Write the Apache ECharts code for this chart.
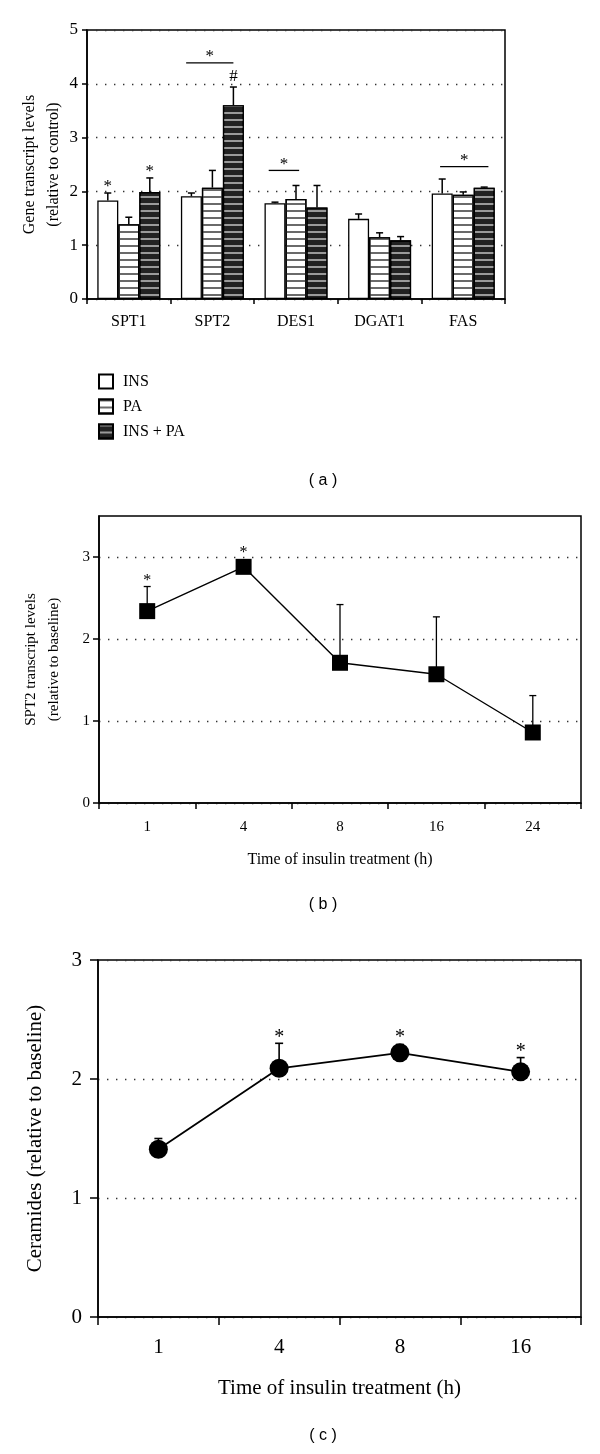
<!DOCTYPE html>
<html>
<head>
<meta charset="utf-8">
<script src="https://cdn.jsdelivr.net/npm/echarts@6/dist/echarts.min.js"></script>
<style>
html,body{margin:0;padding:0;background:#fff;}
#chart{width:600px;height:1454px;}
</style>
</head>
<body>
<div id="chart"></div>
<script>
// ---------- Panel (a) data ----------
const genes = ['SPT1', 'SPT2', 'DES1', 'DGAT1', 'FAS'];
const seriesNames = ['INS', 'PA', 'INS + PA'];
const insMean   = [1.83, 1.91, 1.78, 1.49, 1.96];
const insTop    = [1.97, 1.97, 1.80, 1.58, 2.23];
const paMean    = [1.39, 2.07, 1.86, 1.15, 1.94];
const paTop     = [1.52, 2.39, 2.11, 1.23, 1.99];
const insPaMean = [1.99, 3.60, 1.70, 1.09, 2.07];
const insPaTop  = [2.25, 3.94, 2.11, 1.16, 2.08];
const aTicks = [0, 1, 2, 3, 4, 5];
// bar-level marks: [gene index, series index, symbol]
const aBarMarks = [[0, 0, '*'], [0, 2, '*'], [1, 2, '#']];
// group significance: [gene index, y value, from bar, to bar]
const aGroupMarks = [[1, 4.39, -1.25, 1.0], [2, 2.39, -1.3, 0.15], [4, 2.46, -1.1, 1.2]];

// ---------- Panel (b) data ----------
const bTimes = ['1', '4', '8', '16', '24'];
const bMean  = [2.34, 2.88, 1.71, 1.57, 0.86];
const bTop   = [2.64, 2.92, 2.42, 2.27, 1.31];
const bTicks = [0, 1, 2, 3];
const bStars = [0, 1];

// ---------- Panel (c) data ----------
const cTimes = ['1', '4', '8', '16'];
const cMean  = [1.41, 2.09, 2.22, 2.06];
const cTop   = [1.50, 2.30, 2.29, 2.18];
const cStars = [1, 2, 3];

const SERIF = '"Liberation Serif","DejaVu Serif",serif';
const SANS = '"Liberation Sans", Arial, sans-serif';
const BAR_W = 21;

const chart = echarts.init(document.getElementById('chart'), null, {renderer: 'canvas'});

const aMeans = [insMean, paMean, insPaMean];
const aTops = [insTop, paTop, insPaTop];

const dotted = {color: '#333', width: 1.4, type: [1.4, 7.6]};

function axisCommon(fs, margin, tickLen) {
  return {
    axisLine: {show: true, lineStyle: {color: '#000', width: 1.5}},
    axisTick: {show: true, length: tickLen, lineStyle: {color: '#000', width: 1.5}},
    axisLabel: {color: '#000', fontFamily: SERIF, fontSize: fs, margin: margin,
      formatter: v => (typeof v === 'number' && !Number.isInteger(v)) ? '' : v}
  };
}

// error bar data
const aErrData = [];
for (let k = 0; k < 3; k++) for (let i = 0; i < genes.length; i++) aErrData.push([i, k, aMeans[k][i], aTops[k][i]]);
const bErrData = bMean.map((v, i) => [i, v, bTop[i]]);
const cErrData = cMean.map((v, i) => [i, v, cTop[i]]);

function errBarRender(capHalf, lw, offsetFn) {
  return function (params, api) {
    const off = offsetFn ? offsetFn(api) : 0;
    const meanIdx = offsetFn ? 2 : 1;
    const c = api.coord([api.value(0), api.value(meanIdx)]);
    const t = api.coord([api.value(0), api.value(meanIdx + 1)]);
    const x = c[0] + off;
    return {
      type: 'group',
      children: [
        {type: 'line', shape: {x1: x, y1: c[1], x2: x, y2: t[1]}, style: {stroke: '#000', lineWidth: lw}},
        {type: 'line', shape: {x1: x - capHalf, y1: t[1], x2: x + capHalf, y2: t[1]}, style: {stroke: '#000', lineWidth: lw}}
      ]
    };
  };
}

function starText(x, y, txt, fs) {
  return {type: 'text', x: x, y: y, style: {text: txt, fill: '#000', font: fs + 'px ' + SERIF, textAlign: 'center', textVerticalAlign: 'middle'}};
}

const decalPA = {symbol: 'rect', symbolSize: 1, dashArrayX: [1, 0], dashArrayY: [1.3, 4.2], color: '#6a6a6a', rotation: 0};
const decalInsPa = {symbol: 'rect', symbolSize: 1, dashArrayX: [1, 0], dashArrayY: [1.3, 4.2], color: '#9a9a9a', rotation: 0};
const barStyles = [
  {color: '#fff', borderColor: '#000', borderWidth: 1.3},
  {color: '#fff', borderColor: '#000', borderWidth: 1.3, decal: decalPA},
  {color: '#222', borderColor: '#000', borderWidth: 1.3, decal: decalInsPa}
];

function panelLabel(txt, y) {
  return {type: 'text', x: 323, y: y, style: {text: txt, fill: '#000', font: '16px ' + SANS, textAlign: 'center', textVerticalAlign: 'middle'}};
}

const bAxis = axisCommon(15, 9, 6);
bAxis.axisTick.customValues = bTicks;
bAxis.axisLabel.customValues = bTicks;

const option = {
  animation: false,
  backgroundColor: '#fff',
  aria: {enabled: false},
  grid: [
    {left: 87, top: 30, width: 418, height: 269, show: true, borderColor: '#000', borderWidth: 1.5, backgroundColor: 'transparent'},
    {left: 99, top: 516, width: 482, height: 287, show: true, borderColor: '#000', borderWidth: 1.5, backgroundColor: 'transparent'},
    {left: 98, top: 960, width: 483, height: 357, show: true, borderColor: '#000', borderWidth: 1.5, backgroundColor: 'transparent'}
  ],
  legend: {
    data: seriesNames,
    orient: 'vertical',
    left: 98, top: 373, padding: 0,
    itemWidth: 14, itemHeight: 14, itemGap: 8,
    icon: 'rect',
    textStyle: {color: '#000', fontFamily: SERIF, fontSize: 16, lineHeight: 17, padding: [0, 0, 0, 5]},
    selectedMode: false
  },
  xAxis: [
    Object.assign({type: 'category', gridIndex: 0, data: genes, boundaryGap: true}, axisCommon(16, 15, 5)),
    Object.assign({type: 'category', gridIndex: 1, data: bTimes, boundaryGap: true,
      name: 'Time of insulin treatment (h)', nameLocation: 'middle', nameGap: 49,
      nameTextStyle: {color: '#000', fontFamily: SERIF, fontSize: 16}}, axisCommon(15, 17, 6)),
    Object.assign({type: 'category', gridIndex: 2, data: cTimes, boundaryGap: true,
      name: 'Time of insulin treatment (h)', nameLocation: 'middle', nameGap: 61,
      nameTextStyle: {color: '#000', fontFamily: SERIF, fontSize: 21}}, axisCommon(21, 20, 8))
  ],
  yAxis: [
    Object.assign({type: 'value', gridIndex: 0, min: aTicks[0], max: aTicks[aTicks.length - 1], interval: 1,
      name: 'Gene transcript levels\n(relative to control)', nameLocation: 'middle', nameRotate: 90, nameGap: 21,
      nameMoveOverlap: false,
      nameTextStyle: {color: '#000', fontFamily: SERIF, fontSize: 16, lineHeight: 24},
      splitLine: {show: true, lineStyle: dotted}}, axisCommon(17, 9, 5)),
    Object.assign({type: 'value', gridIndex: 1, min: 0, max: 3.5, interval: 1,
      name: 'SPT2 transcript levels\n(relative to baseline)', nameLocation: 'middle', nameRotate: 90, nameGap: 33,
      nameMoveOverlap: false,
      nameTextStyle: {color: '#000', fontFamily: SERIF, fontSize: 15, lineHeight: 23},
      splitLine: {show: true, lineStyle: dotted}}, bAxis),
    Object.assign({type: 'value', gridIndex: 2, min: 0, max: 3, interval: 1,
      name: 'Ceramides (relative to baseline)', nameLocation: 'middle', nameRotate: 90, nameGap: 52,
      nameMoveOverlap: false,
      nameTextStyle: {color: '#000', fontFamily: SERIF, fontSize: 21},
      splitLine: {show: true, lineStyle: dotted}}, axisCommon(21, 16, 8))
  ],
  graphic: [
    panelLabel('( a )', 481),
    panelLabel('( b )', 905),
    panelLabel('( c )', 1436)
  ],
  series: []
};

// Panel (a) bars
for (let k = 0; k < 3; k++) {
  option.series.push({
    name: seriesNames[k], type: 'bar', xAxisIndex: 0, yAxisIndex: 0,
    data: aMeans[k], barWidth: BAR_W, barGap: '0%',
    itemStyle: barStyles[k], z: 2
  });
}
// Panel (a) error bars
option.series.push({
  type: 'custom', xAxisIndex: 0, yAxisIndex: 0, data: aErrData, z: 3,
  encode: {x: 0, y: 3},
  renderItem: errBarRender(3.5, 1.5, api => (api.value(1) - 1) * BAR_W)
});
// Panel (a) annotations
option.series.push({
  type: 'custom', xAxisIndex: 0, yAxisIndex: 0, z: 4,
  data: aBarMarks.map(m => [m[0], m[1], aTops[m[1]][m[0]]]),
  encode: {x: 0, y: 2},
  renderItem: function (params, api) {
    const m = aBarMarks[params.dataIndex];
    const p = api.coord([api.value(0), api.value(2)]);
    const x = p[0] + (api.value(1) - 1) * BAR_W;
    return starText(x, p[1] - (m[2] === '#' ? 10 : 6), m[2], 17);
  }
});
option.series.push({
  type: 'custom', xAxisIndex: 0, yAxisIndex: 0, z: 4,
  data: aGroupMarks.map(m => [m[0], m[1]]),
  encode: {x: 0, y: 1},
  renderItem: function (params, api) {
    const m = aGroupMarks[params.dataIndex];
    const p = api.coord([api.value(0), api.value(1)]);
    const x1 = p[0] + m[2] * BAR_W, x2 = p[0] + m[3] * BAR_W;
    return {type: 'group', children: [
      {type: 'line', shape: {x1: x1, y1: p[1], x2: x2, y2: p[1]}, style: {stroke: '#000', lineWidth: 1.3}},
      starText((x1 + x2) / 2, p[1] - 6, '*', 17)
    ]};
  }
});

// Panel (b)
option.series.push({
  type: 'custom', xAxisIndex: 1, yAxisIndex: 1, data: bErrData, z: 2,
  encode: {x: 0, y: 2},
  renderItem: errBarRender(3.5, 1.3, null)
});
option.series.push({
  type: 'line', xAxisIndex: 1, yAxisIndex: 1, data: bMean, z: 3,
  symbol: 'rect', symbolSize: 16, showAllSymbol: true,
  lineStyle: {color: '#000', width: 1.4},
  itemStyle: {color: '#000', borderColor: '#000', borderWidth: 0}
});
option.series.push({
  type: 'custom', xAxisIndex: 1, yAxisIndex: 1, z: 4,
  data: bStars.map(i => [i, bMean[i], bTop[i]]),
  encode: {x: 0, y: 2},
  renderItem: function (params, api) {
    const c = api.coord([api.value(0), api.value(1)]);
    const t = api.coord([api.value(0), api.value(2)]);
    const y = Math.min(t[1], c[1] - 8);
    return starText(c[0], y - 6, '*', 16);
  }
});

// Panel (c)
option.series.push({
  type: 'custom', xAxisIndex: 2, yAxisIndex: 2, data: cErrData, z: 2,
  encode: {x: 0, y: 2},
  renderItem: errBarRender(4, 1.6, null)
});
option.series.push({
  type: 'line', xAxisIndex: 2, yAxisIndex: 2, data: cMean, z: 3,
  symbol: 'circle', symbolSize: 19, showAllSymbol: true,
  lineStyle: {color: '#000', width: 1.8},
  itemStyle: {color: '#000', borderColor: '#000', borderWidth: 0}
});
option.series.push({
  type: 'custom', xAxisIndex: 2, yAxisIndex: 2, z: 4,
  data: cStars.map(i => [i, cMean[i], cTop[i]]),
  encode: {x: 0, y: 2},
  renderItem: function (params, api) {
    const c = api.coord([api.value(0), api.value(1)]);
    const t = api.coord([api.value(0), api.value(2)]);
    const y = Math.min(t[1], c[1] - 9.5);
    return starText(c[0], y - 6, '*', 20);
  }
});

chart.setOption(option);
</script>
</body>
</html>
